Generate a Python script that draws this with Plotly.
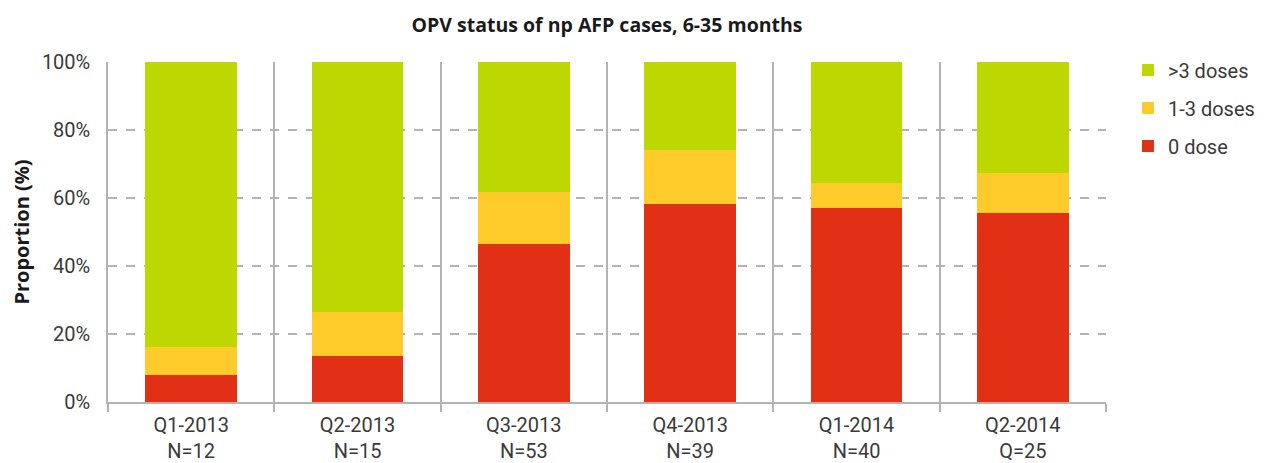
import plotly.graph_objects as go

categories = ["Q1-2013<br>N=12", "Q2-2013<br>N=15", "Q3-2013<br>N=53",
              "Q4-2013<br>N=39", "Q1-2014<br>N=40", "Q2-2014<br>Q=25"]
zero_dose = [8.0, 13.5, 46.5, 58.2, 57.1, 55.6]
one_to_three = [8.2, 13.0, 15.3, 15.9, 7.3, 11.8]
more_than_three = [83.8, 73.5, 38.2, 25.9, 35.6, 32.6]

series = [
    ("0 dose", zero_dose, "#E13015", 3),
    ("1-3 doses", one_to_three, "#FECB2A", 2),
    (">3 doses", more_than_three, "#BDD700", 1),
]

fig = go.Figure()
for name, vals, col, rank in series:
    fig.add_trace(go.Bar(x=categories, y=vals, name=name, marker_color=col,
                         marker_line_width=0, legendgroup=name, legendrank=rank))

FONT = "Roboto"
GRID = "#b3b3b3"
TXT = "#3a3a3a"
fig.update_layout(
    barmode="stack",
    bargap=0.45,
    width=1264, height=455,
    margin=dict(l=100, r=166, t=54, b=61),
    plot_bgcolor="white", paper_bgcolor="white",
    font=dict(family=FONT, size=20, color=TXT),
    title=dict(text="<b>OPV status of np AFP cases, 6-35 months</b>",
               x=0.5, xref="paper", xanchor="center", y=0.9626, yanchor="middle",
               font=dict(family="Open Sans", size=19.5, color="#1a1a1a")),
    legend=dict(x=1.022, xanchor="left", y=1.034, yanchor="top",
                traceorder="grouped", tracegroupgap=9,
                font=dict(family=FONT, size=20, color=TXT)),
    xaxis=dict(type="category", tickson="boundaries", showgrid=True,
               gridcolor=GRID, gridwidth=1.5, ticks="outside", ticklen=8,
               tickcolor=GRID, tickwidth=1.5, showline=True, linecolor=GRID,
               linewidth=1.5, automargin=False, ticklabelstandoff=4,
               tickfont=dict(family=FONT, size=20, color=TXT)),
    yaxis=dict(range=[0, 100.1], tickvals=[0, 20, 40, 60, 80, 100],
               ticktext=["0%", "20%", "40%", "60%", "80%", "100%"],
               showgrid=True, gridcolor=GRID, griddash="dash", gridwidth=1.5,
               zeroline=False, showline=True, linecolor=GRID, linewidth=1.5,
               ticks="", ticklabelstandoff=12, automargin=False,
               title=dict(text="<b>Proportion (%)</b>", standoff=8,
                          font=dict(family="Open Sans", size=20, color="#1a1a1a")),
               tickfont=dict(family=FONT, size=20, color=TXT)),
)

fig.write_html("out.html")
